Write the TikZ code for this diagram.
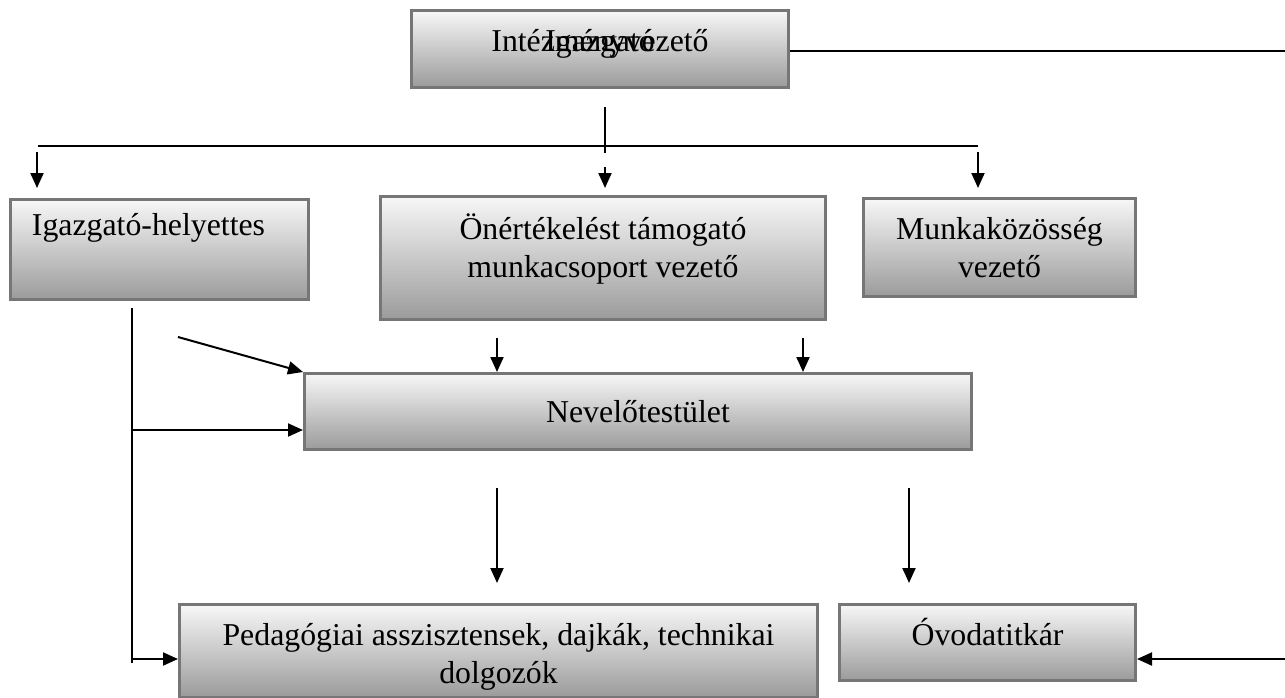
\documentclass[tikz,border=0pt]{standalone}
\usepackage{fontspec}
\setmainfont{Liberation Serif}
\usetikzlibrary{arrows.meta}

\definecolor{boxline}{RGB}{118,118,118}
\definecolor{boxtop}{RGB}{247,247,247}
\definecolor{boxbottom}{RGB}{155,155,155}

\tikzset{
	orgbox/.style={draw=boxline, line width=3pt, top color=boxtop,
		bottom color=boxbottom, anchor=north west, inner sep=0pt,
		align=center, font=\fontsize{31.8}{38}\selectfont},
	boxtext/.style={inner sep=0pt, align=center, font=\fontsize{31.8}{38}\selectfont},
	conn/.style={line width=2pt},
	arr/.style={conn, -{Triangle[length=15pt,width=13pt]}}
}

\begin{document}
\begin{tikzpicture}[x=1pt,y=-1pt]

	\useasboundingbox (0,0) rectangle (1285,697);

	% boxes
	\node[orgbox, minimum width=377, minimum height=77] (vez) at (410,9) {};
	\node[boxtext] (vezA) at ([yshift=5pt]vez.center) {Intézményvezető};
	\node[boxtext] (vezB) at ([yshift=5pt]vez.center) {Igazgató};

	\node[orgbox, minimum width=298, minimum height=100] (igh) at (9,198)
		{Igazgató-helyettes\hspace*{22pt}\\\strut};
	\node[orgbox, minimum width=445, minimum height=123] (onert) at (379,195)
		{Önértékelést támogató\\munkacsoport vezető\\[-14pt]\mbox{}};
	\node[orgbox, minimum width=272, minimum height=98] (mkv) at (862,197)
		{Munkaközösség\\vezető};
	\node[orgbox, minimum width=667, minimum height=76] (nev) at (303,372)
		{Nevelőtestület};
	\node[orgbox, minimum width=638, minimum height=93] (ped) at (178,603)
		{\mbox{}\\[-4pt]Pedagógiai asszisztensek, dajkák, technikai\\dolgozók};
	\node[orgbox, minimum width=296, minimum height=76] (ovo) at (838,603)
		{Óvodatitkár\\[-16pt]\mbox{}};

	% free ends
	\coordinate (rt) at (1285,51);
	\coordinate (t1) at (605,107);
	\coordinate (t2) at (605,153);
	\coordinate (bl) at (38,146);
	\coordinate (br) at (978,146);
	\coordinate (a1) at (37,152);
	\coordinate (a1e) at (37,188);
	\coordinate (a2) at (605,167);
	\coordinate (a2e) at (605,188);
	\coordinate (a3) at (978,152);
	\coordinate (a3e) at (978,188);
	\coordinate (vl1) at (132,308);
	\coordinate (vl2) at (132,663);
	\coordinate (dg) at (178,337);
	\coordinate (hz) at (132,430);
	\coordinate (o1) at (497,338);
	\coordinate (o2) at (803,338);
	\coordinate (n1) at (497,488);
	\coordinate (n1e) at (497,583);
	\coordinate (n2) at (909,488);
	\coordinate (n2e) at (909,583);
	\coordinate (pd) at (132,659);
	\coordinate (ov) at (1285,659);

	% connectors
	\draw[conn] (vez.east |- rt) -- (rt);
	\draw[conn] (t1) -- (t2);
	\draw[conn] (bl) -- (br);
	\draw[arr] (a1) -- (a1e);
	\draw[arr] (a2) -- (a2e);
	\draw[arr] (a3) -- (a3e);

	\draw[conn] (vl1) -- (vl2);
	\draw[arr] (dg) -- (nev.north west);
	\draw[arr] (hz) -- (nev.west |- hz);
	\draw[arr] (o1) -- (nev.north -| o1);
	\draw[arr] (o2) -- (nev.north -| o2);

	\draw[arr] (n1) -- (n1e);
	\draw[arr] (n2) -- (n2e);
	\draw[arr] (pd) -- (ped.west |- pd);
	\draw[arr] (ov) -- (ovo.east |- ov);

\end{tikzpicture}
\end{document}
